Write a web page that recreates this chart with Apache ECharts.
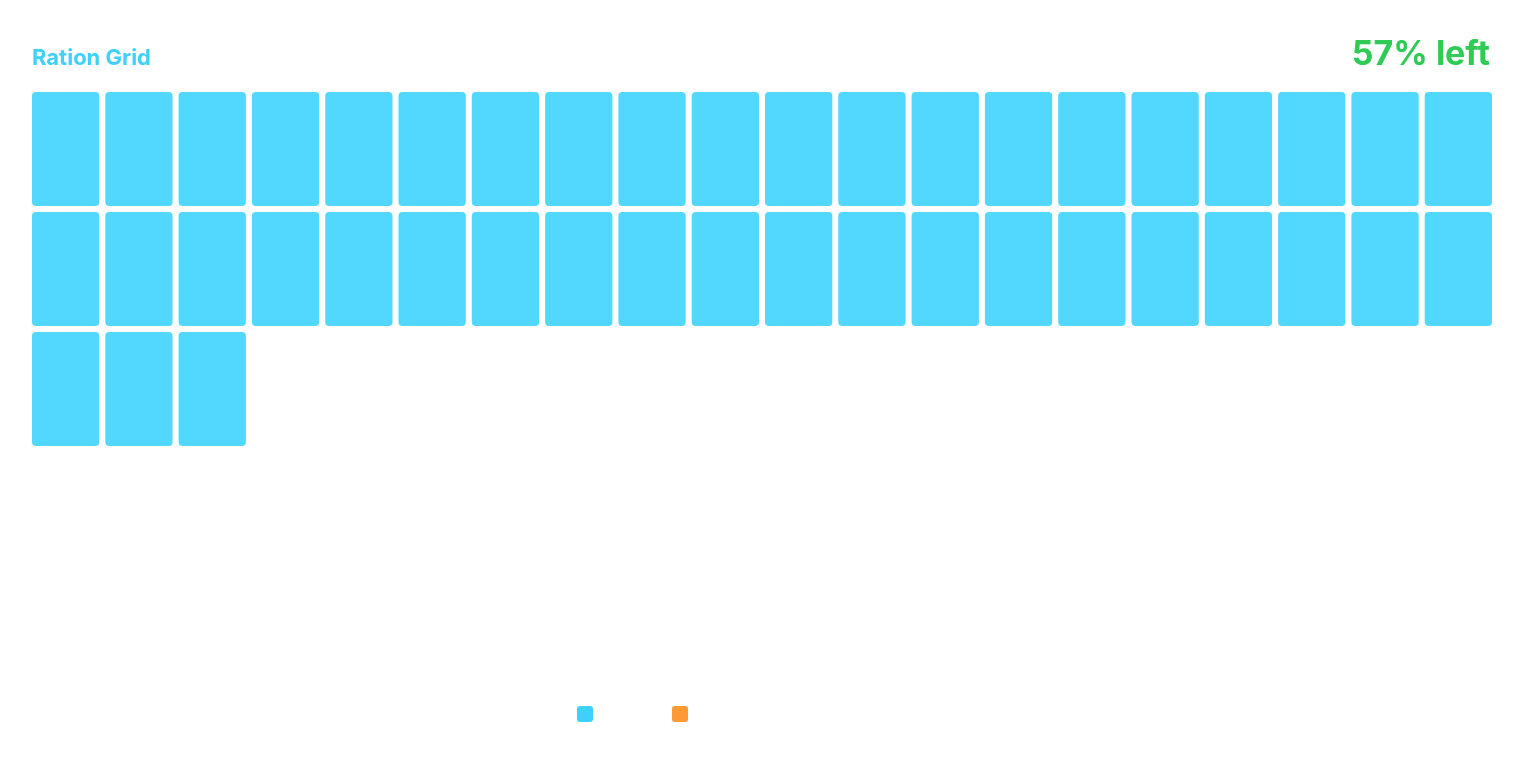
<!DOCTYPE html>
<html><head><meta charset="utf-8">
<script src="https://cdn.jsdelivr.net/npm/echarts@6/dist/echarts.min.js"></script>
<style>html,body{margin:0;padding:0;background:#fff}#c{width:1524px;height:764px}</style>
</head><body><div id="c"></div>
<script>
const titleText = 'Ration Grid';
const seriesNames = ['Used', 'Left'];
const totalCells = 100;
const usedCells = 43;
const columns = 20;
const rows = 5;
const xCats = Array.from({length: columns}, (_, i) => String(i));
const yCats = Array.from({length: rows}, (_, i) => String(i));

const usedData = [];
for (let i = 0; i < usedCells; i++) usedData.push([i % columns, Math.floor(i / columns)]);
const leftPct = Math.round((totalCells - usedCells) / totalCells * 100);

function renderCell(params, api) {
  const p = api.coord([api.value(0), api.value(1)]);
  const s = api.size([1, 1]);
  const gap = 6;
  return {
    type: 'rect',
    shape: { x: p[0] - s[0] / 2, y: p[1] - s[1] / 2, width: s[0] - gap, height: s[1] - gap, r: 4 },
    style: api.style({ fill: '#52d8ff' })
  };
}

const chart = echarts.init(document.getElementById('c'));
chart.setOption({
  animation: false,
  title: [
    { text: titleText, left: 27, top: 42, textStyle: { fontFamily: 'Inter', fontWeight: 'bold', fontSize: 22, color: '#40d0fa' } },
    { text: leftPct + '% left', right: 29, top: 33, textStyle: { fontFamily: 'Inter', fontWeight: 'bold', fontSize: 34, color: '#2ecc55' } }
  ],
  legend: {
    data: [{ name: seriesNames[0], itemStyle: { color: '#3dd1fc' } }, { name: seriesNames[1], itemStyle: { color: '#ff9933' } }],
    left: 572, top: 701, itemWidth: 16, itemHeight: 16, itemGap: 79,
    icon: 'path://M3,0 L13,0 Q16,0 16,3 L16,13 Q16,16 13,16 L3,16 Q0,16 0,13 L0,3 Q0,0 3,0 Z',
    formatter: () => '', selectedMode: false
  },
  grid: { left: 32, top: 92, width: 1466, height: 600 },
  xAxis: { type: 'category', data: xCats, show: false },
  yAxis: { type: 'category', data: yCats, inverse: true, show: false },
  series: [
    { name: seriesNames[0], type: 'custom', renderItem: renderCell, data: usedData, itemStyle: { color: '#52d8ff' } },
    { name: seriesNames[1], type: 'custom', renderItem: renderCell, data: [], itemStyle: { color: '#ff9933' } }
  ]
});
</script></body></html>
